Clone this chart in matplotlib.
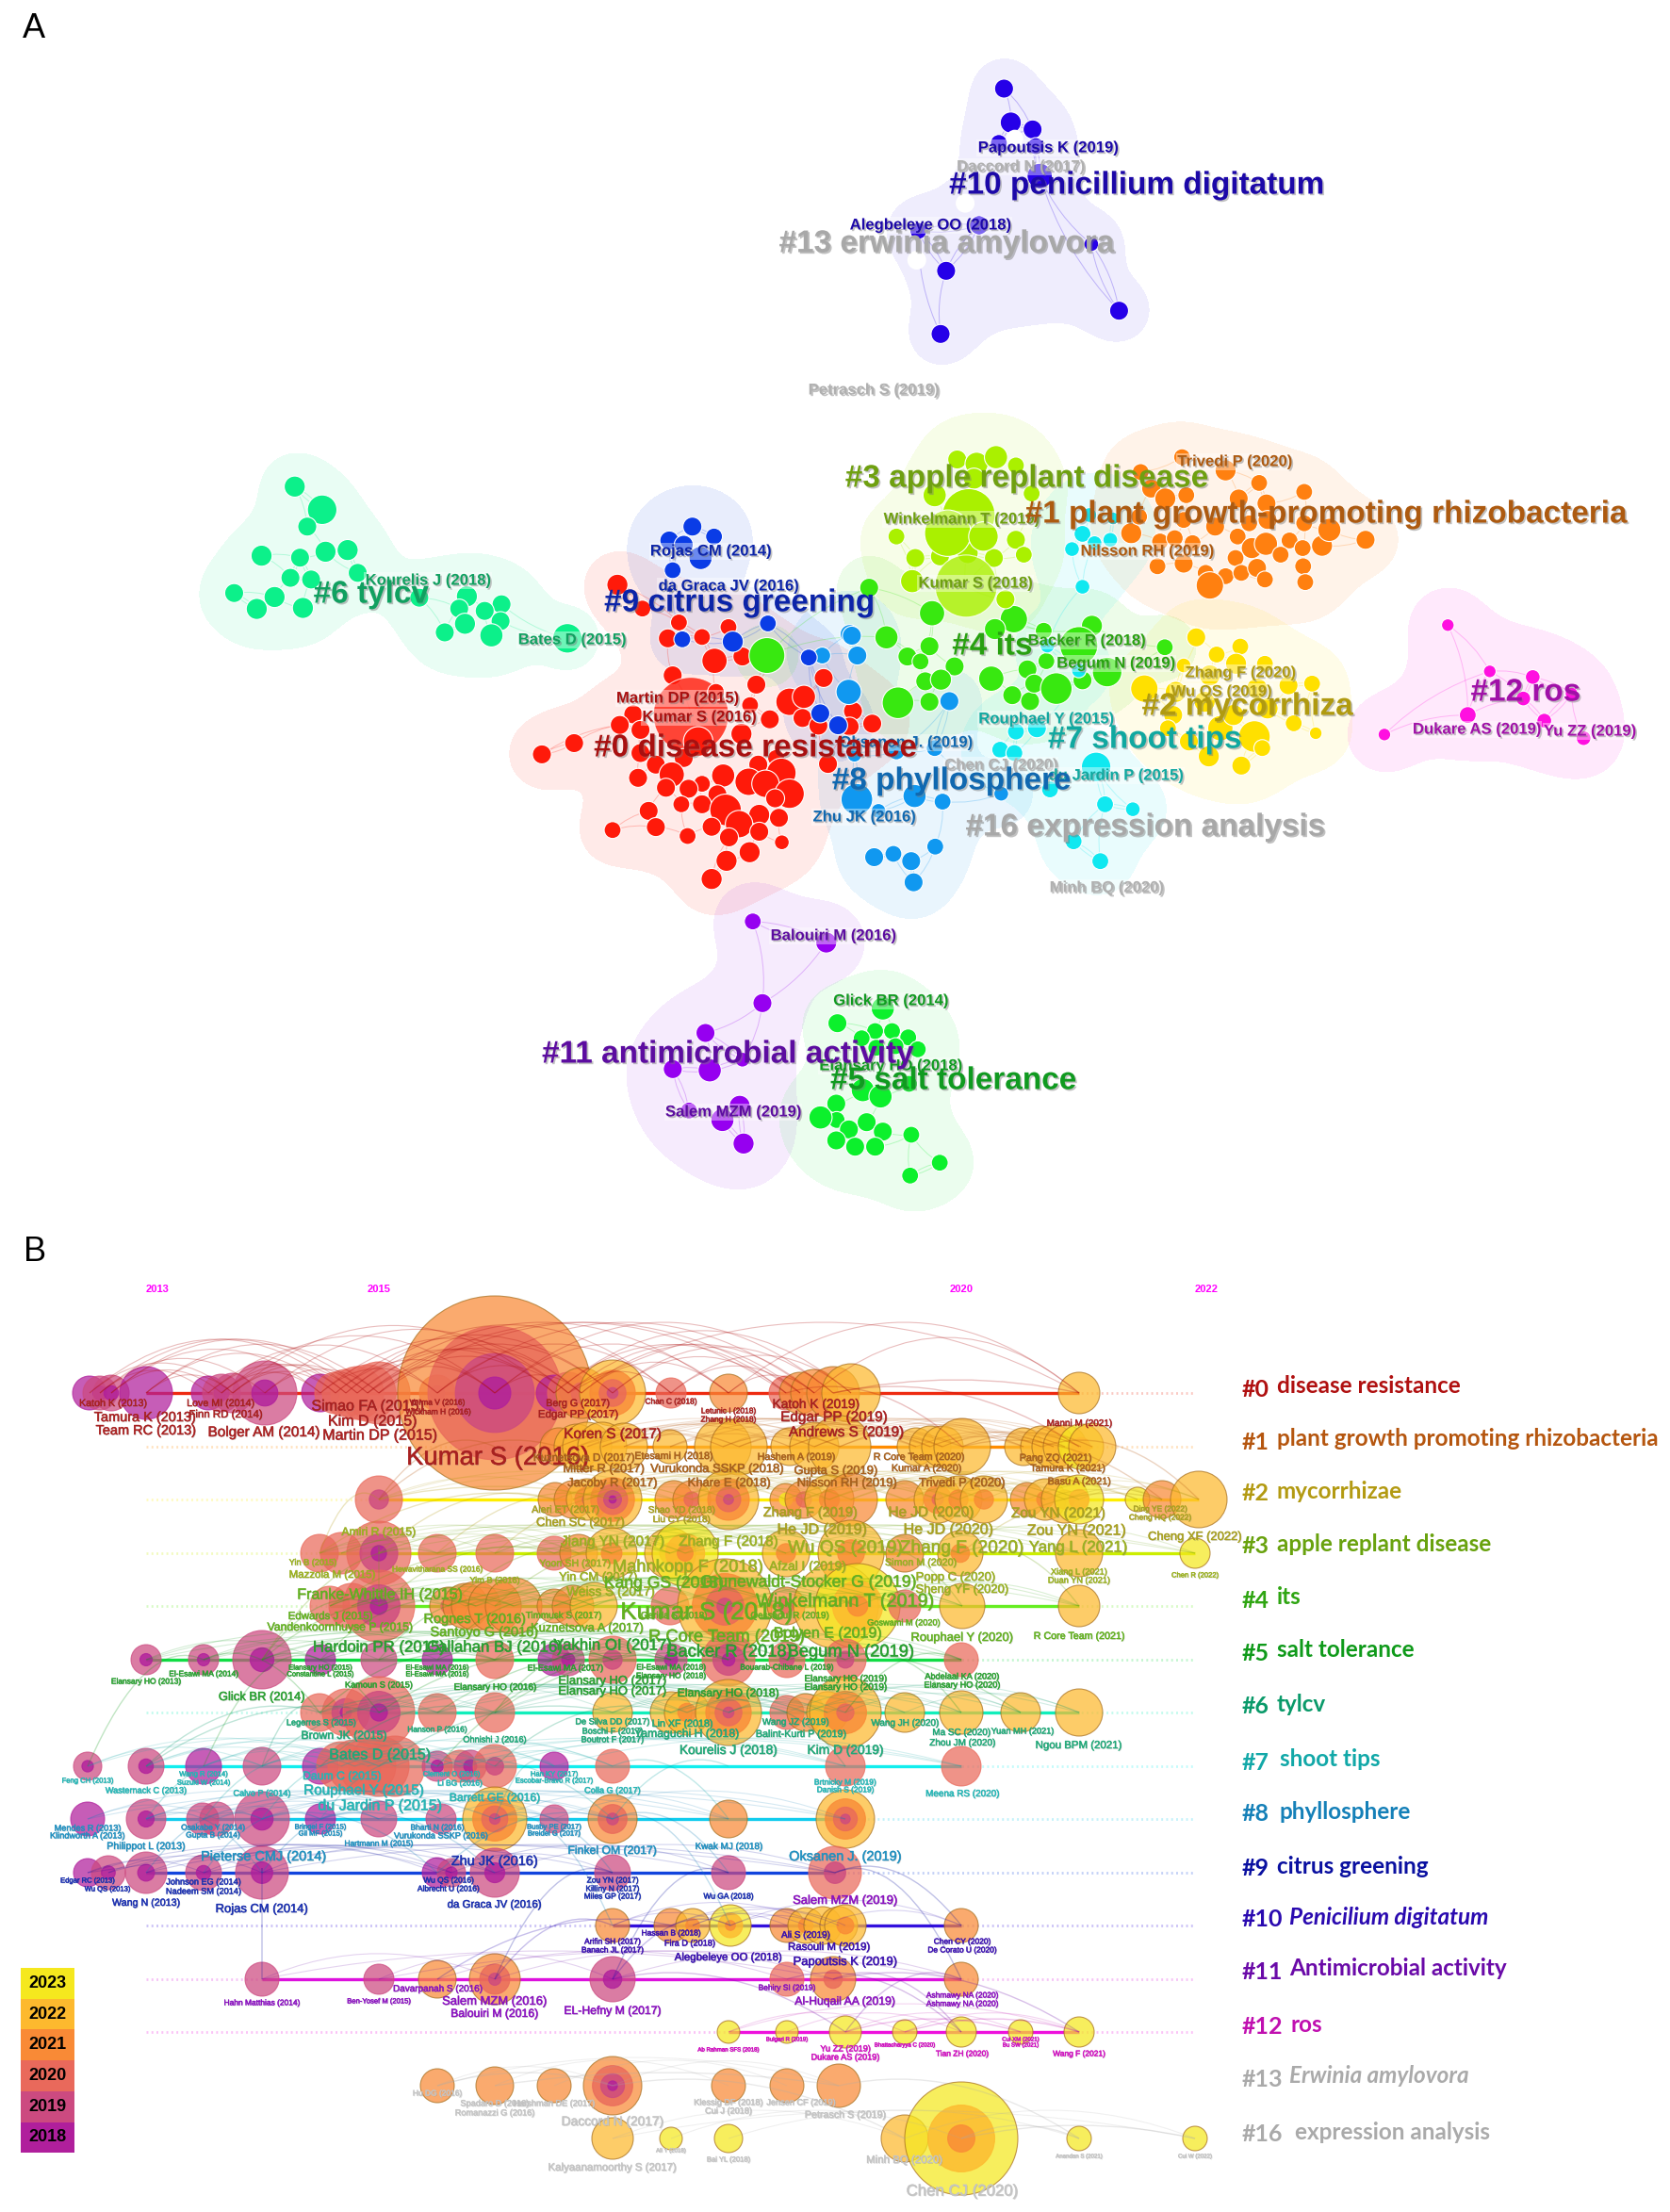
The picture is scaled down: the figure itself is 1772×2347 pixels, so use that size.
import numpy as np
import matplotlib
matplotlib.use("Agg")
import matplotlib.pyplot as plt
from matplotlib.path import Path
from matplotlib.patches import PathPatch, Rectangle
import matplotlib.patheffects as pe

red_nodes = [(892,486,10),(944,558,8),(1020,600,8),(1123,614,8),(997,648,9),(1068,644,8),(1094,716,12),(1152,703,9),(1211,706,8),
 (1007,760,9),(1181,788,9),(1321,768,9),(1045,880,40),(1250,840,13),(1280,825,11),(1168,850,8),(1097,810,8),(925,878,9),(897,910,9),
 (940,925,9),(1209,893,9),(1277,889,9),(1310,912,9),(1382,868,9),(1422,906,9),(1375,915,9),(1330,1028,9),(1150,937,10),(735,999,9),
 (802,965,9),(940,995,9),(1030,1010,9),(972,1030,9),(1005,1060,12),(935,1070,9),(1112,1063,11),(1185,1030,9),(1222,1010,8),(1233,1055,14),
 (1165,1082,13),(1200,1088,13),(1068,1088,8),(1040,1103,9),(993,1100,9),(1100,1120,9),(1250,1118,14),(1220,1132,9),(1025,1150,8),(1068,1150,9),
 (957,1170,9),(1117,1167,15),(1187,1182,10),(1228,1191,9),(1145,1210,13),(1088,1218,9),(972,1219,9),(882,1228,8),(1038,1246,8),(1124,1250,9),
 (1187,1233,9),(1234,1265,7),(1167,1295,10),(1119,1321,10),(1088,1376,10),(1060,960,14)]
tylcv_nodes = [(221,189,10),(278,259,14),(247,310,9),(152,398,10),(232,404,9),(285,386,10),(331,381,10),(352,450,9),(212,465,9),(255,470,9),
 (95,511,9),(179,523,10),(142,559,10),(238,556,10),(480,525,9),(579,521,10),(563,558,9),(651,545,9),(616,565,9),(649,596,9),(575,604,10),
 (533,630,9),(630,639,11),(788,648,14)]
citrus_nodes = [(1048,310,9),(1093,340,8),(1000,352,9),(1030,365,9),(1065,405,11),(1007,442,8),(1205,603,8),(1027,651,8),(1132,658,10),
 (1290,706,8),(1314,875,9),(1351,911,9)]
phyllo_nodes_left = [(1375,635,9),(1391,700,9),(1318,700,8),(1373,810,12),(1385,1000,7),(1390,1135,15),(1510,1125,11),(1435,1170,7),(1426,1310,9),
 (1466,1300,8),(1503,1322,9),(1553,1278,8),(1508,1386,9)]
phyllo_nodes_right = [(7,640,9),(193,838,9),(180,1142,8),(292,1118,7),(165,980,8),(92,990,8)]
its_nodes = [(40,495,9),(73,645,11),(160,572,12),(155,672,9),(113,703,9),(138,718,8),(203,733,9),(147,778,9),(177,773,10),(95,843,15),(155,840,9),
 (273,770,12),(313,820,9),(347,838,9),(342,742,9),(355,785,9),(397,800,15),(378,717,8),(373,625,8),(316,590,13),(465,610,10),(447,775,9),
 (494,750,14),(440,670,18),(604,675,8),(280,620,10),(-155,700,17)]
apple_nodes = [(208,107,9),(245,120,11),(282,100,11),(320,125,8),(240,165,10),(165,215,11),(350,210,8),(230,275,25),(92,340,8),(320,350,9),
 (128,405,9),(175,400,9),(335,395,8),(278,405,9),(228,390,10),(122,475,11),(225,490,33),(300,530,9),(190,330,22),(258,340,14)]
pgpr_nodes = [(637,100,8),(720,140,10),(784,178,8),(870,205,8),(558,145,8),(745,225,9),(798,240,9),(578,195,9),(605,225,10),(645,215,8),
 (540,330,10),(595,355,8),(623,345,8),(657,360,8),(743,340,8),(770,375,10),(797,362,11),(842,352,8),(867,375,8),(904,368,10),(918,320,11),
 (987,350,9),(739,405,8),(825,395,8),(868,430,8),(590,430,8),(640,422,9),(682,450,8),(720,460,8),(750,450,8),(780,435,9),(690,488,13),
 (795,470,8),(872,478,8),(700,310,9),(800,290,9),(870,300,8),(640,290,8),(555,280,8),(765,300,8)]
shoot_nodes = [(447,492,7),(447,332,8),(500,350,7),(427,378,7),(470,360,7),(460,275,7),(505,285,6),(320,930,8),(360,920,9),(290,985,8),(317,995,8),
 (473,1037,14),(385,1105,8),(490,1150,8),(543,1165,7),(430,1262,8),(481,1322,8),(380,670,7),(440,745,7)]
myco_nodes = [(664,645,9),(748,673,8),(703,697,8),(640,730,7),(795,725,8),(740,725,10),(690,760,10),(565,800,13),(625,810,10),(885,785,8),(840,790,9),
 (780,800,10),(680,840,10),(800,860,10),(620,880,9),(850,905,8),(892,935,6),(775,945,15),(710,920,12),(610,920,8),(790,980,8),(650,960,9),
 (688,1005,10),(750,1033,9),(735,880,10)]
ros_nodes = [(1144,608,6),(1224,748,6),(1306,765,7),(1288,830,7),(1182,880,8),(1328,897,7),(1023,939,6),(1403,950,7),(1380,815,6)]
penicil_nodes = [(678,102,9),(695,210,10),(750,232,9),(665,275,8),(758,285,8),(768,380,12),(615,537,9),(462,555,8),(898,597,7),(532,682,9),(968,809,9),(518,883,9)]
erwinia_nodes = [(580,467,10),(458,648,10),(705,260,9)]
antimic_nodes = [(634,113,8),(825,180,10),(659,373,9),(511,468,9),(426,583,9),(522,587,11),(607,553,7),(600,700,10),(555,745,11),(468,715,8),(610,820,10)]
salt_nodes = [(972,390,11),(854,437,9),(952,462,8),(996,462,8),(917,485,8),(1038,482,8),(955,515,8),(1005,510,8),(1063,520,8),(1040,630,8),(920,650,11),
 (966,670,11),(851,693,9),(852,745,8),(810,737,11),(884,775,9),(930,752,9),(972,782,9),(851,810,9),(900,830,9),(952,830,9),(1046,792,8),(1120,881,8),(1043,922,8)]

# ---------- PANEL A: text ----------
a_titles = [("#10 penicillium digitatum",1207,197,"#1c08a8"),("#13 erwinia amylovora",1005,259,"#a8a8a8"),("#3 apple replant disease",1090,508,"#6fa010"),
 ("#1 plant growth-promoting rhizobacteria",1408,546,"#ad5a10"),("#9 citrus greening",785,640,"#0c24a8"),("#6 tylcv",394,631,"#10a060"),
 ("#4 its",1053,686,"#28a010"),("#2 mycorrhiza",1324,750,"#b09a10"),("#7 shoot tips",1215,785,"#10a8a0"),("#0 disease resistance",802,794,"#a81010"),
 ("#8 phyllosphere",1010,829,"#1068b0"),("#16 expression analysis",1216,878,"#a8a8a8"),("#12 ros",1619,735,"#a010a8"),
 ("#11 antimicrobial activity",773,1119,"#5c0ca0"),("#5 salt tolerance",1012,1147,"#109a20")]
a_authors = [("Papoutsis K (2019)",1112,157,"#1c08a8"),("Daccord N (2017)",1083,177,"#b0b0b0"),("Alegbeleye OO (2018)",987,239,"#1c08a8"),
 ("Petrasch S (2019)",927,414,"#b0b0b0"),("Rojas CM (2014)",754,585,"#0c24a8"),("da Graca JV (2016)",773,622,"#0c24a8"),("Kourelis J (2018)",454,616,"#10a060"),
 ("Bates D (2015)",607,679,"#10a060"),("Martin DP (2015)",719,741,"#a81010"),("Kumar S (2016)",742,761,"#a81010"),("Zhu JK (2016)",917,867,"#1068b0"),
 ("Oksanen J. (2019)",961,788,"#1068b0"),("Balouiri M (2016)",884,993,"#5c0ca0"),("Glick BR (2014)",945,1062,"#109a20"),("Elansary HO (2018)",945,1131,"#109a20"),
 ("Salem MZM (2019)",778,1180,"#5c0ca0"),("Winkelmann T (2019)",1020,551,"#6fa010"),("Trivedi P (2020)",1310,490,"#ad5a10"),("Nilsson RH (2019)",1217,585,"#ad5a10"),
 ("Kumar S (2018)",1035,619,"#6fa010"),("Backer R (2018)",1153,680,"#28a010"),("Begum N (2019)",1184,704,"#28a010"),("Zhang F (2020)",1316,714,"#b09a10"),
 ("Wu QS (2019)",1296,734,"#b09a10"),("Rouphael Y (2015)",1110,763,"#10a8a0"),("Chen CJ (2020)",1062,812,"#b0b0b0"),("du Jardin P (2015)",1184,823,"#10a8a0"),
 ("Minh BQ (2020)",1174,942,"#b0b0b0"),("Dukare AS (2019)",1567,774,"#a010a8"),("Yu ZZ (2019)",1687,776,"#a010a8")]

# ---------- PANEL B: timeline nodes (x, radius, first ring year index, last ring year index) ----------
year_colors = ["#b01f9c","#cc4a80","#e9695b","#f98a36","#fdb92e","#f5e81e"]
legend_years = ["2023","2022","2021","2020","2019","2018"]
axis_years = ["2013","2015","2020","2022"]
axis_year_x = [167,402,1020,1280]
row_names = ["disease resistance","plant growth promoting rhizobacteria","mycorrhizae","apple replant disease","its","salt tolerance","tylcv",
 "shoot tips","phyllosphere","citrus greening","Penicilium digitatum","Antimicrobial activity","ros","Erwinia amylovora","expression analysis"]
row_ids = ["#0","#1","#2","#3","#4","#5","#6","#7","#8","#9","#10","#11","#12","#13","#16"]
row_y = [1478,1535,1591,1648,1704,1761,1817,1874,1930,1987,2043,2100,2156,2213,2269]
row_label_y = [1471,1527,1582,1638,1695,1751,1808,1867,1922,1980,2034,2089,2148,2203,2262]
row_label_x = [1355,1355,1355,1355,1355,1355,1355,1358,1358,1355,1368,1368,1370,1368,1374]
row_label_color = ["#b01010","#b5560f","#b39a12","#69a20e","#2fa512","#0f9a1a","#0a9a6a","#12a8a8","#1580b8","#0a10a0","#2a0ab0","#6a0aa8","#c010b0","#aaaaaa","#aaaaaa"]
row_line_color = ["#ee2a10","#ff8c00","#ffee00","#ccee00","#66ee22","#11dd44","#11eebb","#11eeee","#11ccee","#1144dd","#3311dd","#dd11dd","#ee11dd",None,None]
text_color = ["#a82020","#a8601c","#a8a020","#9ab020","#62b020","#28a030","#20a878","#25b5b5","#2090c0","#1a2fb0","#3a10b0","#8a10c0","#d010c0","#c4c4c4","#c4c4c4"]

row0 = [(95,18,0,0),(106,18,0,1),(118,19,0,1),(155,28,0,0),(221,18,0,0),(235,20,0,1),(247,21,1,1),(281,34,0,1),(340,20,0,0),(356,22,2,2),(367,25,2,2),(379,28,2,2),
 (390,30,2,2),(402,33,2,2),(464,19,1,2),(525,103,0,3),(588,19,0,0),(603,22,1,2),(617,27,2,3),(650,35,1,4),(712,16,2,2),(773,20,3,3),(834,18,2,2),(849,22,3,3),
 (864,25,3,3),(884,28,3,3),(903,31,4,4),(1145,22,4,4)]
row1 = [(593,20,3,3),(612,24,4,4),(623,26,4,4),(639,26,4,4),(662,25,4,4),(711,18,4,4),(767,30,4,4),(784,30,4,4),(838,20,4,4),(864,26,4,4),(891,33,4,4),(972,20,4,4),(987,22,4,4),
 (1000,22,4,4),(1021,30,4,4),(1086,20,4,4),(1105,22,4,4),(1118,23,4,4),(1130,23,4,4),(1147,24,4,5),(1159,25,4,4)]
row2 = [(402,25,1,2),(589,18,3,3),(608,20,3,3),(623,22,2,4),(650,31,0,4),(715,20,3,3),(734,20,2,3),(773,32,1,4),(834,17,5,3),(853,20,2,3),(880,26,3,4),(903,28,3,3),(960,20,3,3),
 (995,25,2,4),(1017,25,3,4),(1044,25,3,4),(1090,18,3,3),(1109,22,3,4),(1130,25,3,4),(1145,26,4,5),(1207,13,5,5),(1233,20,3,3),(1272,30,4,4)]
row3 = [(339,20,2,2),(362,22,2,2),(402,34,0,2),(464,20,2,2),(525,20,2,2),(588,18,2,2),(614,20,3,3),(649,27,3,4),(711,27,3,4),(727,35,3,5),(834,25,3,4),(903,35,3,4),(960,20,3,3),
 (1019,24,3,4),(1145,25,4,4),(1268,16,5,5)]
row4 = [(350,21,2,2),(373,24,2,2),(402,38,0,2),(476,20,2,3),(494,24,3,3),(505,26,3,3),(525,28,3,3),(545,30,3,3),(588,18,3,3),(608,22,3,3),(630,25,4,4),(711,20,2,2),(769,50,1,4),
 (834,20,2,3),(887,45,4,4),(910,45,3,5),(960,17,2,2),(1021,24,4,4),(1145,22,4,4)]
row5 = [(155,16,0,1),(216,16,0,1),(278,31,0,1),(340,16,0,0),(402,19,1,1),(464,16,0,0),(525,20,2,2),(588,17,0,0),(603,17,0,1),(650,25,1,2),(712,17,0,1),(773,28,0,2),(835,19,1,2),(897,22,1,2),(1020,18,2,2)]
row6 = [(339,20,2,2),(367,25,0,2),(402,38,0,2),(464,20,2,2),(525,21,2,2),(650,21,4,4),(712,22,4,4),(729,24,3,4),(773,35,1,4),(835,18,2,2),(855,20,3,3),(878,22,4,4),(897,38,2,4),(960,21,4,4),(1020,23,4,4),(1083,21,4,4),(1145,25,4,4)]
row7 = [(93,15,0,1),(155,19,0,1),(216,19,0,0),(278,20,1,1),(340,19,0,0),(362,26,2,2),(376,28,2,2),(390,30,2,2),(402,32,2,2),(419,32,2,2),(464,16,0,1),(488,17,2,2),(499,17,0,1),(525,23,1,2),(588,15,0,0),(650,18,2,2),(897,21,2,2),(1020,21,2,2)]
row8 = [(93,18,0,0),(155,21,0,1),(215,17,1,1),(230,18,1,1),(278,29,0,1),(340,16,0,0),(402,19,1,1),(468,16,1,1),(525,34,1,4),(588,15,1,1),(650,26,1,3),(773,20,3,3),(897,31,1,4)]
row9 = [(93,15,0,0),(115,18,0,1),(155,22,0,1),(216,19,0,1),(278,28,0,1),(464,16,0,0),(479,15,0,1),(525,26,0,1),(650,19,1,1),(773,18,1,1),(886,28,1,2)]
row10 = [(650,18,3,3),(712,18,3,3),(735,18,3,4),(775,22,3,5),(835,18,3,3),(855,19,3,4),(873,20,4,4),(890,20,4,4),(897,22,3,4),(1020,18,3,3)]
row11 = [(278,18,1,1),(402,16,1,1),(464,20,3,3),(525,27,1,3),(650,24,0,1),(835,18,2,2),(884,24,2,3),(1020,18,3,3)]
row12 = [(773,12,5,5),(835,12,5,5),(897,17,5,5),(960,13,5,5),(1020,16,5,5),(1083,13,5,5),(1145,16,5,5)]
row13 = [(464,18,3,3),(525,20,3,3),(588,18,3,3),(650,31,0,3),(773,18,3,3),(835,18,3,3),(890,23,3,3)]
row16 = [(650,22,4,4),(712,12,5,5),(773,15,5,5),(960,25,4,4),(1020,60,3,5),(1145,13,5,5),(1268,13,5,5)]
timeline_rows = [row0,row1,row2,row3,row4,row5,row6,row7,row8,row9,row10,row11,row12,row13,row16]

# links between timeline rows: (row index a, x a, row index b, x b)
cross_links = [(1,525,2,402),(2,402,3,339),(3,402,4,402),(3,464,5,278),(4,402,5,278),(5,216,6,339),(5,278,6,402),(6,339,7,278),(7,155,6,402),(7,93,5,216),(7,216,5,340),
 (7,650,8,773),(8,155,9,278),(8,278,9,464),(8,340,9,525),(8,525,9,650),(8,650,9,773),(7,464,8,650),(9,278,11,278),(9,650,11,525),(9,773,11,650),(9,886,11,1020),
 (10,1020,9,886),(11,1020,12,897),(12,1145,11,884),(12,1020,11,835),(13,650,14,960),(14,1020,14,1268),(14,1145,14,1020),(13,525,13,890),(5,1020,6,897),(6,1020,5,897),(6,1083,5,835),
 (2,1233,1,1021),(2,1272,1,1105),(2,1233,3,1019),(1,1145,0,884),(1,1021,0,834),(0,1145,0,884),(4,1021,3,903),(4,1145,3,1019),(7,897,6,773),(5,650,6,525),(5,712,7,464),
 (2,402,2,650),(2,402,1,593),(3,402,2,589),(3,464,2,650),(3,525,2,715),(3,339,2,589),(4,402,3,588),(4,476,3,649),(4,525,3,711),(4,350,3,614),(5,340,4,505),(5,402,4,545),
 (5,278,4,476),(5,464,4,608),(5,525,4,711),(6,402,5,650),(6,464,5,712),(6,525,5,773),(6,339,5,525),(7,155,6,339),(7,278,6,464),(7,340,6,525),(7,402,6,650),(7,525,6,712),
 (8,216,7,340),(8,278,7,402),(8,155,7,278),(8,340,7,464),(8,525,7,588),(8,650,7,773),(9,155,8,278),(9,216,8,340),(9,278,8,402),(9,464,8,650),(10,650,8,525),(10,775,8,650),
 (11,525,10,650),(11,650,10,775),(11,464,10,712),(11,884,12,1020),(12,897,11,650),(12,1083,12,897),(12,1145,12,960),(13,650,13,464),(13,890,14,1145)]

# (text, x, y, size) for each row
labels0 = [("Katoh K (2013)",120,1489,7),("Tamura K (2013)",154,1504,9.5),("Team RC (2013)",155,1518,9.5),("Love MI (2014)",234,1489,7),("Finn RD (2014)",240,1501,7.5),
 ("Bolger AM (2014)",280,1520,10),("Simao FA (2015)",390,1492,10.5),("Kim D (2015)",395,1508,10.5),("Martin DP (2015)",403,1523,10.5),("Verma V (2016)",464,1489,5.5),
 ("Wickham H (2016)",465,1499,5.5),("Kumar S (2016)",528,1547,18),("Berg G (2017)",613,1489,7),("Edgar PP (2017)",614,1501,7.5),("Koren S (2017)",650,1522,10),
 ("Chan C (2018)",712,1488,5.5),("Letunic I (2018)",773,1498,5.5),("Zhang H (2018)",773,1507,5.5),("Katoh K (2019)",866,1490,9),("Edgar PP (2019)",885,1504,10),
 ("Andrews S (2019)",898,1520,10),("Manni M (2021)",1145,1510,6.5)]
labels1 = [("Kuznetsova D (2017)",620,1547,7.5),("Mitter R (2017)",641,1559,8.5),("Vurukonda SSKP (2018)",761,1559,8.5),("Jacoby R (2017)",650,1574,8.5),("Khare E (2018)",774,1574,8.5),
 ("Etesami H (2018)",715,1545,7),("Hashem A (2019)",845,1546,7),("Gupta S (2019)",887,1561,8.5),("Nilsson RH (2019)",899,1574,8.5),("R Core Team (2020)",975,1546,7),
 ("Kumar A (2020)",983,1558,7),("Trivedi P (2020)",1021,1574,8.5),("Pang ZQ (2021)",1120,1547,7),("Tamura K (2021)",1133,1558,7),("Basu A (2021)",1145,1572,7)]
labels2 = [("Aleri ET (2017)",600,1602,7),("Chen SC (2017)",616,1616,8.5),("Shao YD (2018)",723,1602,6.5),("Liu CY (2018)",723,1612,6.5),("Zhang F (2019)",860,1605,9.5),
 ("He JD (2019)",872,1623,10.5),("He JD (2020)",988,1605,10),("He JD (2020)",1006,1623,10.5),("Zou YN (2021)",1123,1606,10),("Zou YN (2021)",1142,1624,10.5),
 ("Ding YE (2022)",1231,1602,5.5),("Cheng HQ (2022)",1231,1611,5.5),("Cheng XF (2022)",1268,1631,8.5)]
labels3 = [("Jiang YN (2017)",650,1636,10),("Zhang F (2018)",773,1636,10),("Wu QS (2019)",897,1643,12.5),("Zhang F (2020)",1021,1643,12.5),("Yang L (2021)",1144,1642,11),
 ("Amiri R (2015)",402,1626,8),("Yin B (2015)",332,1658,6),("Mazzola M (2015)",353,1671,7.5),("Hewavitharana SS (2016)",464,1666,5.5),("Yim B (2016)",525,1677,6),
 ("Yoon SH (2017)",610,1659,7),("Yin CM (2017)",635,1674,8.5),("Weiss S (2017)",648,1689,9),("Mahnkopp F (2018)",730,1663,12),("Afzal I (2019)",857,1662,9),
 ("Simon M (2020)",977,1658,7),("Popp C (2020)",1014,1674,8.5),("Sheng YF (2020)",1021,1687,8.5),("Xiang L (2021)",1145,1668,6),("Duan YN (2021)",1145,1677,6),("Chen R (2022)",1268,1672,5)]
labels4 = [("Franke-Whittle IH (2015)",403,1692,10.5),("Edwards J (2015)",351,1715,7.5),("Vandenkoornhuyse P (2015)",361,1727,8),("Rognes T (2016)",504,1718,9.5),("Santoyo G (2016)",514,1732,9.5),
 ("Kang GS (2018)",704,1680,11.5),("Grunewaldt-Stocker G (2019)",857,1679,11.5),("Winkelmann T (2019)",897,1699,13),("Kumar S (2018)",750,1711,17),("Timmusk S (2017)",598,1714,6.5),
 ("Gerida S (2018)",715,1714,6.5),("Qessaoui R (2019)",838,1714,6.5),("R Core Team (2019)",771,1737,12),("Goswami M (2020)",959,1722,6),("R Core Team (2021)",1145,1736,7),
 ("Rouphael Y (2020)",1021,1738,8.5),("Bolyen E (2019)",878,1733,10.5),("Kuznetsova A (2017)",623,1728,8.5)]
labels5 = [("Hardoin PR (2015)",402,1748,11),("Callahan BJ (2016)",525,1748,11),("Yakhin OI (2017)",650,1746,11),("Backer R (2018)",774,1753,12),("Begum N (2019)",903,1753,12),
 ("El-Esawi MA (2017)",600,1770,6),("Elansary HO (2015)",340,1770,5),("Constantine L (2015)",340,1777,5),("El-Esawi MA (2016)",464,1770,5),("El-Esawi MA (2016)",464,1777,5),
 ("Elansary HO (2013)",155,1785,5.5),("El-Esawi MA (2014)",216,1777,5.5),("Glick BR (2014)",278,1801,8.5),("Kamoun S (2015)",402,1788,6),("Elansary HO (2016)",525,1790,6.5),
 ("Elansary HO (2017)",650,1784,8.5),("Elansary HO (2017)",650,1795,8.5),("El-Esawi MA (2018)",712,1770,5.5),("Elansary HO (2018)",712,1779,5.5),("Elansary HO (2018)",773,1797,8),
 ("Bouarab-Chibane L (2019)",835,1770,5.5),("Elansary HO (2019)",897,1781,6.5),("Elansary HO (2019)",897,1790,6.5),("Abdelaal KA (2020)",1021,1779,6),("Elansary HO (2020)",1021,1788,6)]
labels6 = [("De Silva DD (2017)",650,1827,6),("Lin XF (2018)",724,1829,7),("Boschi F (2017)",650,1837,6),("Boutrot F (2017)",650,1846,6),("Yamaguchi H (2018)",729,1840,8),
 ("Kourelis J (2018)",773,1857,9),("Wang JZ (2019)",844,1827,6.5),("Balint-Kurti P (2019)",850,1840,7),("Kim D (2019)",897,1857,9),("Wang JH (2020)",960,1828,6.5),
 ("Ma SC (2020)",1020,1838,6.5),("Yuan MH (2021)",1085,1837,6),("Zhou JM (2020)",1021,1849,6.5),("Ngou BPM (2021)",1145,1852,7.5),("Legerres S (2015)",341,1828,6),
 ("Brown JK (2015)",365,1842,8),("Hanson P (2016)",464,1836,5.5),("Ohnishi J (2016)",525,1846,6),("Bates D (2015)",403,1862,10.5)]
labels7 = [("Feng CH (2013)",93,1890,5),("Wasternack C (2013)",155,1900,6),("Wang R (2014)",216,1883,5),("Suzuki W (2014)",216,1892,5),("Calvo P (2014)",278,1903,6),
 ("Daum C (2015)",363,1885,8),("Rouphael Y (2015)",386,1900,10),("du Jardin P (2015)",403,1916,10.5),("Clement O (2016)",479,1883,5),("Li BG (2016)",488,1893,5.5),
 ("Barrett GE (2016)",525,1908,8),("Han KY (2017)",588,1883,5),("Escobar-Bravo R (2017)",588,1890,5),("Colla G (2017)",650,1900,6),("Brtnicky M (2019)",897,1892,5.5),
 ("Danish S (2019)",897,1900,5.5),("Meena RS (2020)",1021,1903,6.5)]
labels8 = [("Mendes R (2013)",93,1940,6),("Klindworth A (2013)",93,1948,6),("Philippot L (2013)",155,1959,7),("Osakabe Y (2014)",226,1940,5.5),("Gupta B (2014)",226,1948,5.5),
 ("Pieterse CMJ (2014)",280,1970,9.5),("Bringel F (2015)",340,1939,5),("Gil MF (2015)",340,1946,5),("Hartmann M (2015)",402,1957,5.5),("Bharti N (2016)",464,1940,5.5),
 ("Vurukonda SSKP (2016)",468,1948,6),("Busby PE (2017)",588,1939,5),("Breidel G (2017)",588,1946,5),("Finkel OM (2017)",650,1964,8),("Kwak MJ (2018)",773,1959,6.5),("Oksanen J. (2019)",897,1970,9.5)]
labels9 = [("Zhu JK (2016)",525,1975,9.5),("Edgar RC (2013)",93,1996,5),("Wu QS (2013)",114,2005,5),("Wang N (2013)",155,2019,7),("Johnson EG (2014)",216,1997,6),
 ("Nadeem SM (2014)",216,2007,6),("Rojas CM (2014)",278,2026,8.5),("Wu QS (2016)",476,1996,5.5),("Albrecht U (2016)",476,2005,5.5),("da Graca JV (2016)",525,2021,7.5),
 ("Zou YN (2017)",650,1996,5.5),("Killiny N (2017)",650,2005,5.5),("Miles GP (2017)",650,2013,5.5),("Wu GA (2018)",773,2013,5.5)]
labels10 = [("Hassan B (2018)",712,2052,5.5),("Arifin SH (2017)",650,2061,5.5),("Banach JL (2017)",650,2070,5.5),("Fira D (2018)",732,2062,6),("Alegbeleye OO (2018)",773,2077,7.5),
 ("Ali S (2019)",855,2053,6.5),("Rasouli M (2019)",880,2066,7.5),("Papoutsis K (2019)",897,2082,8.5),("Chen CY (2020)",1021,2061,5.5),("De Corato U (2020)",1021,2070,5.5)]
labels11 = [("Salem MZM (2019)",897,2017,8.5),("Hahn Matthias (2014)",278,2126,5.5),("Ben-Yosef M (2015)",402,2124,5),("Davarpanah S (2016)",464,2110,6.5),("Salem MZM (2016)",525,2124,8.5),
 ("Balouiri M (2016)",525,2137,8),("EL-Hefny M (2017)",650,2134,8),("Behiry SI (2019)",835,2110,5.5),("Al-Huqail AA (2019)",897,2124,8),("Ashmawy NA (2020)",1021,2118,5.5),("Ashmawy NA (2020)",1021,2127,5.5)]
labels12 = [("Ab Rahman SFS (2018)",773,2175,4),("Bulgari R (2019)",835,2164,4),("Yu ZZ (2019)",897,2174,6),("Dukare AS (2019)",897,2183,6),("Bhattacharyya C (2020)",960,2170,4),
 ("Tian ZH (2020)",1021,2180,5.5),("Cui XM (2021)",1083,2164,4),("Bu SW (2021)",1083,2170,4),("Wang F (2021)",1145,2180,5.5)]
labels13 = [("Hu DG (2016)",464,2222,5.5),("Spadaro D (2016)",525,2232,6),("Romanazzi G (2016)",525,2242,6),("Hershman DE (2017)",588,2232,6),("Daccord N (2017)",650,2251,9),
 ("Klessig DF (2018)",773,2231,6),("Cui J (2018)",773,2240,6),("Jensen CF (2019)",850,2231,6),("Petrasch S (2019)",897,2244,7)]
labels16 = [("Kalyaanamoorthy S (2017)",650,2300,7.5),("Ali Y (2018)",712,2282,4),("Bai YL (2018)",773,2292,5),("Minh BQ (2020)",960,2292,7.5),("Chen CJ (2020)",1021,2325,11),
 ("Anandan S (2021)",1145,2288,4),("Cui W (2022)",1268,2288,4)]
timeline_labels = [labels0,labels1,labels2,labels3,labels4,labels5,labels6,labels7,labels8,labels9,labels10,labels11,labels12,labels13,labels16]

# ---------- drawing ----------
plt.rcParams['font.family'] = ['Liberation Sans', 'DejaVu Sans']
fig = plt.figure(figsize=(17.72, 23.47), dpi=100)
ax = fig.add_axes([0, 0, 1, 1])
ax.set_xlim(0, 1772); ax.set_ylim(2347, 0); ax.axis("off")

def crop(nodes, x0, y0, sx, sy):
    return [(x0 + a / sx, y0 + b / sy, r) for a, b, r in nodes]
LEFT = (200, 450, 1.96, 2.851)
RIGHT = (900, 450, 1.798, 2.851)
TOP = (780, 60, 2.376, 3.0)
LOW = (540, 940, 2.45, 3.0)

def hull(points):
    pts = sorted(set(points))
    def half(seq):
        out = []
        for p in seq:
            while len(out) > 1 and (out[-1][0]-out[-2][0])*(p[1]-out[-2][1]) - (out[-1][1]-out[-2][1])*(p[0]-out[-2][0]) <= 0:
                out.pop()
            out.append(p)
        return out[:-1]
    return half(pts) + half(pts[::-1])

def blur(a, sigma):
    w = np.exp(-np.arange(-40, 41) ** 2 / (2 * sigma ** 2)); w /= w.sum()
    a = np.apply_along_axis(lambda v: np.convolve(v, w, mode="same"), 0, a)
    return np.apply_along_axis(lambda v: np.convolve(v, w, mode="same"), 1, a)

def cluster(nodes, color, sigma=26, level=.45, convex_from=None, links=2, shade=.09):
    xy = np.array([(n[0], n[1]) for n in nodes])
    gx = np.arange(xy[:, 0].min() - 160, xy[:, 0].max() + 160, 3.0)
    gy = np.arange(xy[:, 1].min() - 160, xy[:, 1].max() + 160, 3.0)
    X, Y = np.meshgrid(gx, gy)
    F = np.zeros_like(X)
    for px, py in xy:
        F += np.exp(-((X - px) ** 2 + (Y - py) ** 2) / (2 * sigma ** 2))
    if convex_from is not None:
        h = hull([tuple(p) for p in xy[convex_from:]])
        mask = Path(h + [h[0]]).contains_points(np.c_[X.ravel(), Y.ravel()]).reshape(X.shape).astype(float)
        F = F + blur(mask, 8)
    ax.contourf(X, Y, F, levels=[level, 1e9], colors=[color], alpha=shade, zorder=1)
    for i, p in enumerate(xy):
        d = np.hypot(*(xy - p).T)
        for j in np.argsort(d)[1:links + 1]:
            m = (p + xy[j]) / 2 + np.array([(xy[j] - p)[1], -(xy[j] - p)[0]]) * .12
            ax.add_patch(PathPatch(Path([p, m, xy[j]], [Path.MOVETO, Path.CURVE3, Path.CURVE3]), fc="none", ec=color, lw=.7, alpha=.25, zorder=2))
    for n in nodes:
        big = n[2] >= 30
        ax.add_patch(plt.Circle((n[0], n[1]), n[2] * (1 if big else 1.12), fc=color, ec="white", lw=.8, alpha=.8 if big else 1, zorder=3))

cluster(crop(tylcv_nodes, *LEFT), "#0cf08a")
cluster(crop(red_nodes, *LEFT), "#ff1a0a")
cluster(crop(phyllo_nodes_left, *LEFT) + crop(phyllo_nodes_right, *RIGHT), "#1098f0")
cluster(crop(citrus_nodes, *LEFT), "#0a3ce6")
cluster(crop(its_nodes, *RIGHT), "#38e810")
cluster(crop(apple_nodes, *RIGHT), "#aaf000")
cluster(crop(pgpr_nodes, *RIGHT), "#ff8010")
cluster(crop(shoot_nodes, *RIGHT), "#10e8f0")
cluster(crop(myco_nodes, *RIGHT), "#ffe000")
cluster(crop(ros_nodes, *RIGHT), "#ff10e0", sigma=30, convex_from=0)
cluster(crop(penicil_nodes, *TOP), "#2600e8", sigma=24, convex_from=1, shade=.07)
for n in crop(erwinia_nodes, *TOP):
    ax.add_patch(plt.Circle((n[0], n[1]), n[2], fc="white", ec="none", zorder=3))
cluster(crop(antimic_nodes, *LOW), "#9600f0", sigma=34, level=.5, shade=.08)
cluster(crop(salt_nodes, *LOW), "#0cf02c", shade=.08)

shadow = [pe.SimplePatchShadow(offset=(1.2, -1.2), shadow_rgbFace="#777777", alpha=.45), pe.Normal()]
for t, x, y, c in a_authors:
    ax.text(x, y, t, color=c, fontsize=12, fontweight="bold", ha="center", va="center", zorder=5,
            bbox=dict(fc="white", ec="none", alpha=.4, pad=1), path_effects=shadow)
for t, x, y, c in a_titles:
    ax.text(x, y, t, color=c, fontsize=24, fontweight="bold", ha="center", va="center", zorder=6, path_effects=shadow)

ax.text(36, 30, "A", fontsize=26, ha="center", va="center", color="black")
ax.text(37, 1328, "B", fontsize=26, ha="center", va="center", color="black")

# Panel B
for t, x in zip(axis_years, axis_year_x):
    ax.text(x, 1368, t, color="#ff00ff", fontsize=8, fontweight="bold", ha="center", va="center", zorder=9)

for i, row in enumerate(timeline_rows):
    y = row_y[i]
    col = row_line_color[i]
    if col:
        ax.plot([155, 1268], [y, y], color=col, lw=2, ls=(0, (.7, 1.2)), alpha=.25, zorder=10)
        ax.plot([max(155, row[0][0]), row[-1][0]], [y, y], color=col, lw=2.4, zorder=10.1, solid_capstyle="butt")
    for x, r, a, b in row:
        lo, hi = min(a, b), max(a, b)
        seq = list(range(lo, hi + 1))
        if a > b:
            seq = [a, b]
        n = len(seq)
        for k in range(n, 0, -1):
            rad = r * (k / n) ** 1.3
            c = year_colors[seq[k - 1]]
            ax.add_patch(plt.Circle((x, y), rad, fc=c, ec="#a87020" if k == n and seq[-1] >= 3 else c, lw=.8, alpha=.72 if k == n else .8, zorder=11 + i * .01))

def arc(x0, y0, x1, y1, color, lift, lw=.8, alpha=.22):
    c = ((x0 + x1) / 2, min(y0, y1) - lift)
    ax.add_patch(PathPatch(Path([(x0, y0), c, (x1, y1)], [Path.MOVETO, Path.CURVE3, Path.CURVE3]), fc="none", ec=color, lw=lw, alpha=alpha, zorder=12))

for i, row in enumerate(timeline_rows):
    c = row_label_color[i]
    xs = [n[0] for n in row]
    for s in (3, 6, 10):
        for k in range(0, len(xs) - s):
            span = xs[k + s] - xs[k]
            if span < 90:
                continue
            lift = min(150, span * .42) if i == 0 else min(60, span * .22)
            arc(xs[k], row_y[i], xs[k + s], row_y[i], c, lift, alpha=.28 if i == 0 else .18)
for ra, xa, rb, xb in cross_links:
    c = row_label_color[min(ra, rb)]
    arc(xa, row_y[ra], xb, row_y[rb], c, 28, lw=1.0, alpha=.26)

LABEL_SCALE = 1.1
for i, labs in enumerate(timeline_labels):
    for t, x, y, s in labs:
        ax.text(x, y, t, color=text_color[i], fontsize=s * LABEL_SCALE, ha="center", va="center", zorder=20, alpha=.92,
                path_effects=[pe.SimplePatchShadow(offset=(.6, -.6), shadow_rgbFace="#888888", alpha=.35),
                              pe.Stroke(linewidth=.35, foreground=text_color[i]), pe.Normal()])

for i in range(len(row_names)):
    style = "italic" if row_names[i] in ("Penicilium digitatum", "Erwinia amylovora") else "normal"
    ax.text(1318, row_label_y[i] + 3, row_ids[i], color=row_label_color[i], fontsize=18, fontweight="bold", family="Lato", va="center", ha="left", zorder=20)
    ax.text(row_label_x[i], row_label_y[i], row_names[i], color=row_label_color[i], fontsize=17.5, fontweight="bold", fontstyle=style, family="Lato", va="center", ha="left", zorder=20)

# year legend
for k, t in enumerate(legend_years):
    y0 = 2088 + 32.7 * k
    ax.add_patch(Rectangle((22, y0), 57, 32.7, fc=year_colors[5 - k], ec="none", zorder=20))
    ax.text(50.5, y0 + 16.3, t, fontsize=13, fontweight="bold", ha="center", va="center", color="black", zorder=21)

fig.savefig("out.png", dpi=100)
